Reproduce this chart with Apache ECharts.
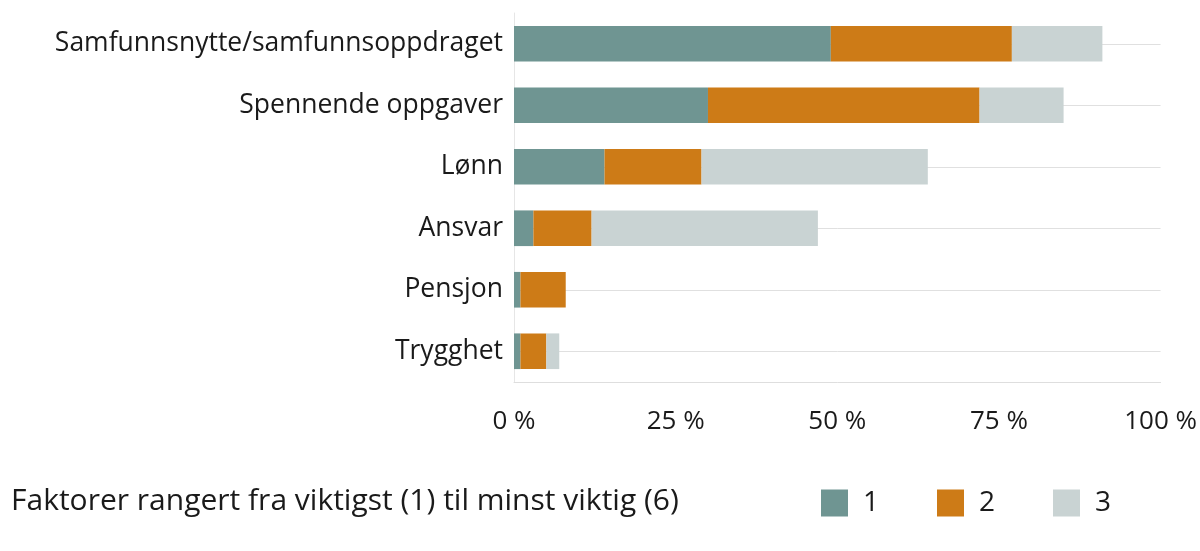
<!DOCTYPE html>
<html>
<head>
<meta charset="utf-8">
<script src="https://cdn.jsdelivr.net/npm/echarts@6/dist/echarts.min.js"></script>
<style>
html,body{margin:0;padding:0;background:#fff;}
#main{width:1200px;height:551px;}
</style>
</head>
<body>
<div id="main"></div>
<script>
var categories = ["Samfunnsnytte/samfunnsoppdraget", "Spennende oppgaver", "Lønn", "Ansvar", "Pensjon", "Trygghet"];
var rank1 = [49, 30, 14, 3, 1, 1];
var rank2 = [28, 42, 15, 9, 7, 4];
var rank3 = [14, 13, 35, 35, 0, 2];
var seriesNames = ["1", "2", "3"];
var xTicks = [0, 25, 50, 75, 100];
var titleText = "Faktorer rangert fra viktigst (1) til minst viktig (6)";

var colors = ["#6f9592", "#cd7b17", "#c9d3d3"];
var font = "'Open Sans', sans-serif";
var chart = echarts.init(document.getElementById('main'));
var seriesData = [rank1, rank2, rank3];
var series = seriesData.map(function (d, i) {
  var s = {
    name: seriesNames[i],
    type: 'bar',
    stack: 'total',
    barWidth: '58%',
    data: d,
    itemStyle: { color: colors[i] },
    emphasis: { disabled: true }
  };
  if (i === 0) {
    s.markLine = {
      silent: true,
      symbol: 'none',
      z: 1,
      label: { show: false },
      lineStyle: { color: '#e0e0e0', type: 'solid', width: 1 },
      data: categories.map(function (c) { return { yAxis: c }; })
    };
  }
  return s;
});

chart.setOption({
  animation: false,
  color: colors,
  title: {
    text: titleText,
    left: 6,
    top: 481,
    textStyle: { fontFamily: font, fontSize: 30, fontWeight: 'normal', color: '#1a1a1a' }
  },
  legend: {
    left: 816,
    top: 484,
    itemWidth: 27,
    itemHeight: 27,
    itemGap: 58,
    icon: 'rect',
    textStyle: { fontFamily: font, fontSize: 28, color: '#1a1a1a', padding: [0, 0, 0, 10] },
    data: seriesNames
  },
  grid: { left: 514, right: 39, top: 13, bottom: 169, containLabel: false },
  xAxis: {
    type: 'value',
    min: xTicks[0],
    max: xTicks[xTicks.length - 1],
    interval: 25,
    axisLine: { show: true, lineStyle: { color: '#dedede', width: 1 } },
    axisTick: { show: false },
    splitLine: { show: false },
    axisLabel: {
      margin: 27,
      fontFamily: font,
      fontSize: 26,
      color: '#1a1a1a',
      formatter: function (v) { return v + ' %'; }
    }
  },
  yAxis: {
    type: 'category',
    inverse: true,
    data: categories,
    axisLine: { show: true, lineStyle: { color: '#e6e6e6', width: 1 } },
    axisTick: { show: false },
    splitLine: { show: false },
    axisLabel: { margin: 11, fontFamily: font, fontSize: 26.5, color: '#1a1a1a', padding: [4, 0, 0, 0] }
  },
  series: series
});
</script>
</body>
</html>
